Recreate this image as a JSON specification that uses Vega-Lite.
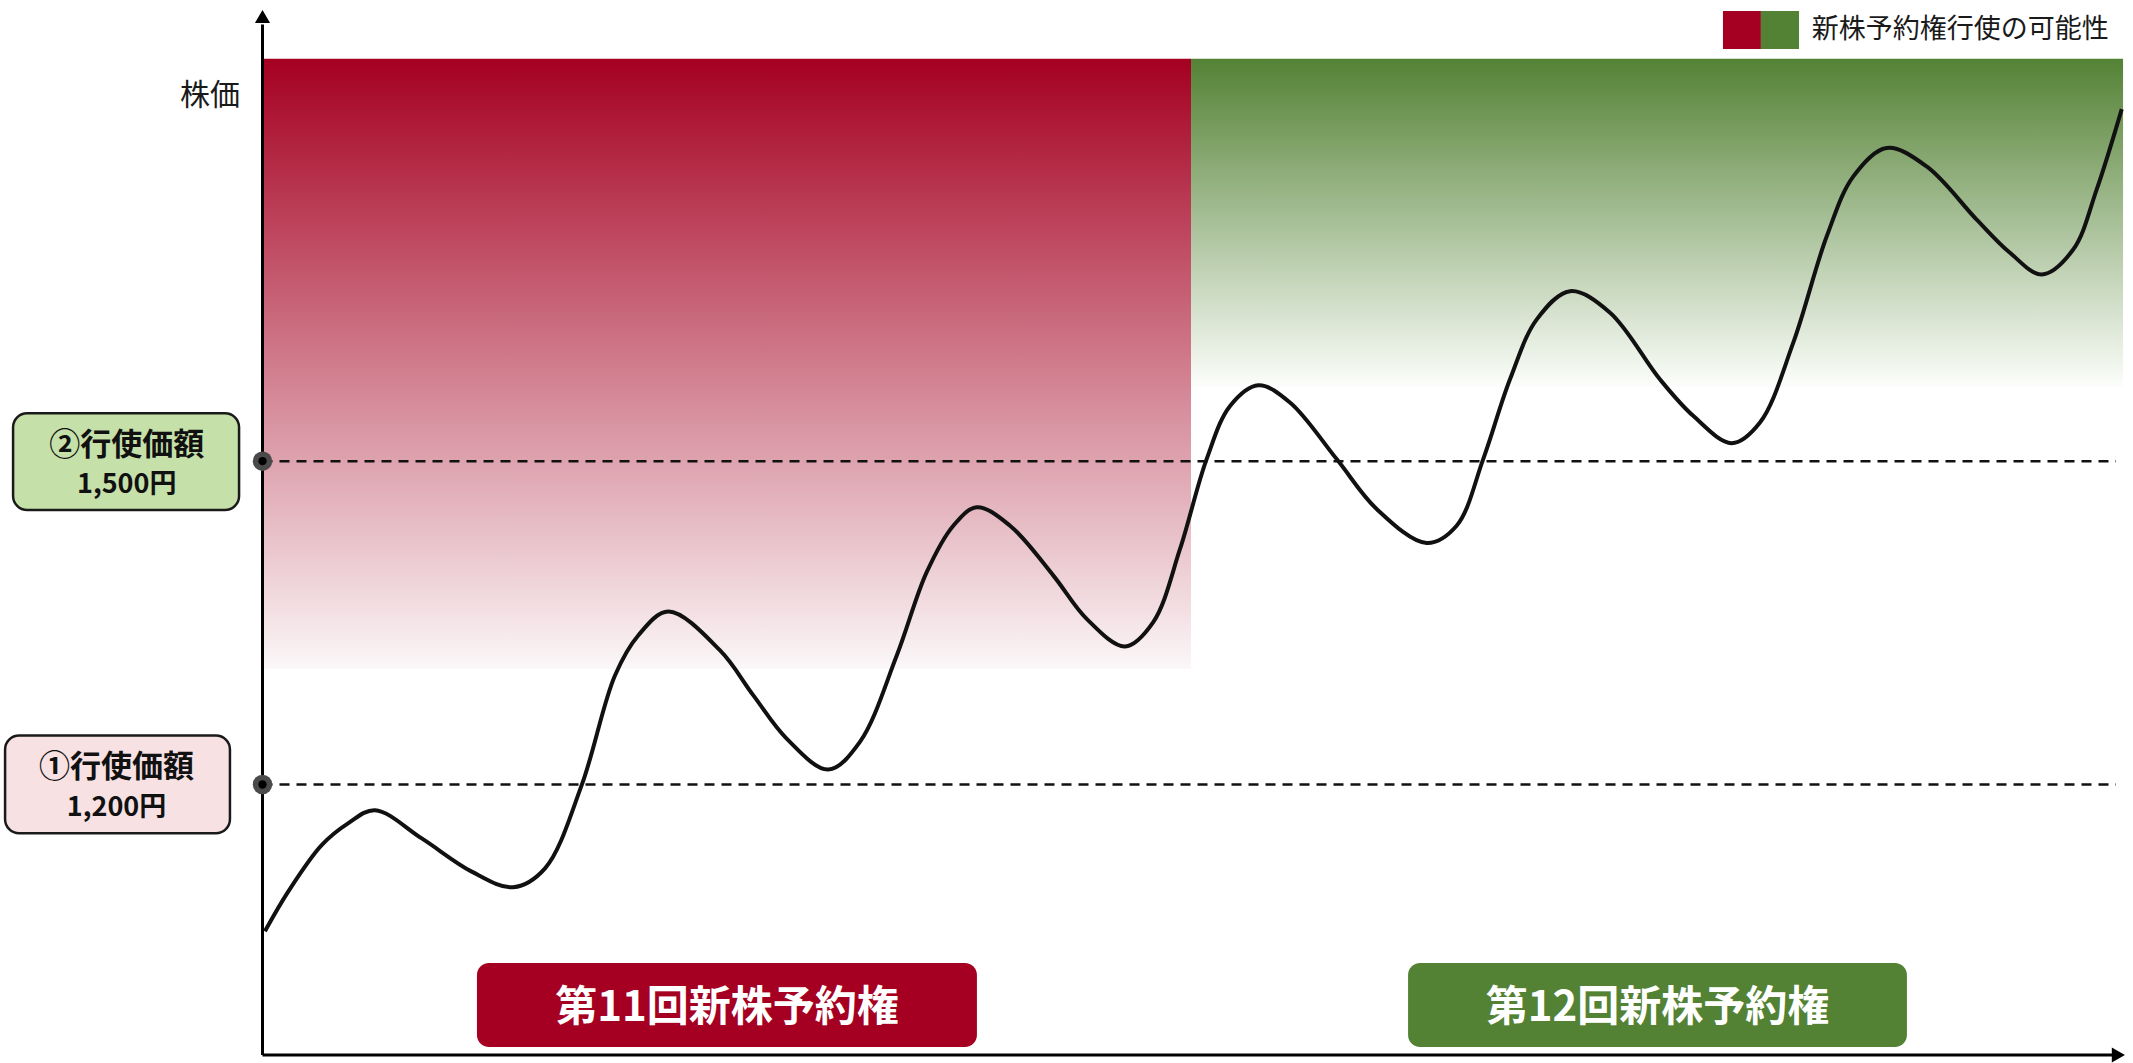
{
  "$schema": "https://vega.github.io/schema/vega-lite/v6.json",
  "width": 2133,
  "height": 1063,
  "autosize": {"type": "fit", "contains": "padding"},
  "padding": 0,
  "background": "white",
  "config": {"view": {"stroke": null}},
  "resolve": {"scale": {"fill": "independent", "shape": "independent"}},
  "datasets": {
    "zones": [
      {"series": "第11回", "t": 0, "t2": 49.92, "price": 1307.4, "price2": 1873.2},
      {"series": "第12回", "t": 49.92, "t2": 100.03, "price": 1568.5, "price2": 1873.2}
    ],
    "levels": [
      {"label": "②", "t": 0, "t2": 99.65, "price": 1500},
      {"label": "①", "t": 0, "t2": 99.65, "price": 1200}
    ],
    "axes": [
      {"axis": "y", "t": 0, "t2": 0, "price": 949.1, "price2": 1905},
      {"axis": "x", "t": 0, "t2": 99.6, "price": 949.1, "price2": 949.1}
    ],
    "arrows": [
      {"axis": "y", "t": 0, "price": 1912.5},
      {"axis": "x", "t": 99.78, "price": 949.1}
    ],
    "curve": [
      {"t": 0.13, "price": 1063.9}, {"t": 1.39, "price": 1100.9}, {"t": 3.18, "price": 1143.8},
      {"t": 4.6, "price": 1164.0}, {"t": 6.05, "price": 1176.2}, {"t": 8.56, "price": 1150.0},
      {"t": 11.25, "price": 1119.2}, {"t": 13.48, "price": 1104.7}, {"t": 15.19, "price": 1122.2},
      {"t": 17.16, "price": 1199.4}, {"t": 18.95, "price": 1301.2}, {"t": 20.2, "price": 1338.3},
      {"t": 21.82, "price": 1360.5}, {"t": 24.6, "price": 1324.4}, {"t": 26.39, "price": 1282.7},
      {"t": 28.18, "price": 1242.6}, {"t": 30.42, "price": 1213.9}, {"t": 32.12, "price": 1239.6},
      {"t": 34.1, "price": 1319.7}, {"t": 35.71, "price": 1397.0}, {"t": 37.14, "price": 1440.1},
      {"t": 38.4, "price": 1457.2}, {"t": 40.19, "price": 1440.1}, {"t": 42.52, "price": 1393.8},
      {"t": 44.31, "price": 1353.7}, {"t": 46.37, "price": 1328.1}, {"t": 47.89, "price": 1350.7},
      {"t": 49.33, "price": 1418.5}, {"t": 50.76, "price": 1501.9}, {"t": 52.02, "price": 1551.2},
      {"t": 53.54, "price": 1570.4}, {"t": 55.24, "price": 1554.4}, {"t": 57.75, "price": 1501.9},
      {"t": 59.9, "price": 1455.6}, {"t": 62.59, "price": 1424.1}, {"t": 64.2, "price": 1440.1},
      {"t": 65.63, "price": 1501.9}, {"t": 67.07, "price": 1575.9}, {"t": 68.51, "price": 1631.5},
      {"t": 70.3, "price": 1657.7}, {"t": 72.45, "price": 1637.7}, {"t": 75.13, "price": 1575.9},
      {"t": 76.92, "price": 1542.0}, {"t": 78.99, "price": 1516.7}, {"t": 80.51, "price": 1535.9},
      {"t": 82.3, "price": 1609.9}, {"t": 84.1, "price": 1708.6}, {"t": 85.53, "price": 1764.2},
      {"t": 87.32, "price": 1790.5}, {"t": 89.47, "price": 1773.4}, {"t": 92.16, "price": 1724.1},
      {"t": 93.95, "price": 1693.3}, {"t": 95.66, "price": 1673.2}, {"t": 97.35, "price": 1696.3},
      {"t": 98.61, "price": 1751.9}, {"t": 99.96, "price": 1826.6}
    ],
    "levelBoxes": [
      {"label": "②", "t": -13.41, "t2": -1.26, "price": 1454.7, "price2": 1544.5},
      {"label": "①", "t": -13.84, "t2": -1.75, "price": 1154.7, "price2": 1245.4}
    ],
    "levelTitles": [
      {"text": "②行使価額", "t": -7.3, "price": 1514.5},
      {"text": "①行使価額", "t": -7.85, "price": 1215.5}
    ],
    "levelValues": [
      {"text": "1,500円", "t": -7.3, "price": 1478.0},
      {"text": "1,200円", "t": -7.85, "price": 1178.0}
    ],
    "seriesBoxes": [
      {"series": "第11回", "t": 11.53, "t2": 38.41, "price": 956.5, "price2": 1034.3, "text": "第11回新株予約権", "tc": 24.97},
      {"series": "第12回", "t": 61.59, "t2": 88.41, "price": 956.5, "price2": 1034.3, "text": "第12回新株予約権", "tc": 75.0}
    ],
    "legendSquares": [
      {"series": "第11回", "t": 78.52, "t2": 80.56, "price": 1882.4, "price2": 1917.6},
      {"series": "第12回", "t": 80.56, "t2": 82.61, "price": 1882.4, "price2": 1917.6}
    ],
    "notes": [
      {"role": "legend", "text": "新株予約権行使の可能性", "t": 83.3, "price": 1900},
      {"role": "ytitle", "text": "株価", "t": -1.21, "price": 1838.9}
    ]
  },
  "encoding": {
    "x": {"field": "t", "type": "quantitative", "scale": {"domain": [-14.113, 100.565], "nice": false, "zero": false}, "axis": null},
    "y": {"field": "price", "type": "quantitative", "scale": {"domain": [943.5, 1927.8], "nice": false, "zero": false}, "axis": null}
  },
  "layer": [
    {
      "data": {"name": "zones"},
      "transform": [{"filter": "datum.series === '第11回'"}],
      "mark": {"type": "rect", "color": {"gradient": "linear", "x1": 0, "y1": 0, "x2": 0, "y2": 1, "stops": [{"offset": 0, "color": "#A50021"}, {"offset": 1, "color": "#FBF7F8"}]}},
      "encoding": {"x2": {"field": "t2"}, "y2": {"field": "price2"}}
    },
    {
      "data": {"name": "zones"},
      "transform": [{"filter": "datum.series === '第12回'"}],
      "mark": {"type": "rect", "color": {"gradient": "linear", "x1": 0, "y1": 0, "x2": 0, "y2": 1, "stops": [{"offset": 0, "color": "#548235"}, {"offset": 1, "color": "#FCFEFB"}]}},
      "encoding": {"x2": {"field": "t2"}, "y2": {"field": "price2"}}
    },
    {
      "data": {"name": "levels"},
      "mark": {"type": "rule", "color": "#111111", "strokeWidth": 2.5, "strokeDash": [10, 7]},
      "encoding": {"x2": {"field": "t2"}}
    },
    {
      "data": {"name": "axes"},
      "mark": {"type": "rule", "color": "#000000", "strokeWidth": 3},
      "encoding": {"x2": {"field": "t2"}, "y2": {"field": "price2"}}
    },
    {
      "data": {"name": "arrows"},
      "mark": {"type": "point", "filled": true, "opacity": 1, "size": 230, "color": "#000000"},
      "encoding": {"shape": {"field": "axis", "type": "nominal", "scale": {"domain": ["y", "x"], "range": ["triangle-up", "triangle-right"]}, "legend": null}}
    },
    {
      "data": {"name": "curve"},
      "mark": {"type": "line", "interpolate": "catmull-rom", "color": "#111111", "strokeWidth": 4}
    },
    {
      "data": {"name": "levels"},
      "mark": {"type": "point", "filled": true, "opacity": 1, "shape": "circle", "size": 380, "color": "#4A4A4A"}
    },
    {
      "data": {"name": "levels"},
      "mark": {"type": "point", "filled": true, "opacity": 1, "shape": "circle", "size": 70, "color": "#000000"}
    },
    {
      "data": {"name": "levelBoxes"},
      "mark": {"type": "rect", "cornerRadius": 14, "stroke": "#1A1A1A", "strokeWidth": 2.5},
      "encoding": {
        "x2": {"field": "t2"}, "y2": {"field": "price2"},
        "fill": {"field": "label", "type": "nominal", "scale": {"domain": ["②", "①"], "range": ["#C5E0A8", "#F7E1E3"]}, "legend": null}
      }
    },
    {
      "data": {"name": "levelTitles"},
      "mark": {"type": "text", "font": "Noto Sans CJK JP", "fontWeight": "bold", "fontSize": 31, "align": "center", "baseline": "middle", "color": "#111111"},
      "encoding": {"text": {"field": "text"}}
    },
    {
      "data": {"name": "levelValues"},
      "mark": {"type": "text", "font": "Noto Sans CJK JP", "fontWeight": "bold", "fontSize": 27, "align": "center", "baseline": "middle", "color": "#111111"},
      "encoding": {"text": {"field": "text"}}
    },
    {
      "data": {"name": "seriesBoxes"},
      "mark": {"type": "rect", "cornerRadius": 12},
      "encoding": {
        "x2": {"field": "t2"}, "y2": {"field": "price2"},
        "fill": {"field": "series", "type": "nominal", "scale": {"domain": ["第11回", "第12回"], "range": ["#A50021", "#548235"]}, "legend": null}
      }
    },
    {
      "data": {"name": "seriesBoxes"},
      "mark": {"type": "text", "font": "Noto Sans CJK JP", "fontWeight": "bold", "fontSize": 42, "align": "center", "baseline": "middle", "color": "#FFFFFF"},
      "encoding": {
        "x": {"field": "tc", "type": "quantitative"},
        "y": {"datum": 993},
        "text": {"field": "text"}
      }
    },
    {
      "data": {"name": "legendSquares"},
      "mark": {"type": "rect"},
      "encoding": {
        "x2": {"field": "t2"}, "y2": {"field": "price2"},
        "fill": {"field": "series", "type": "nominal", "scale": {"domain": ["第11回", "第12回"], "range": ["#A50021", "#548235"]}, "legend": null}
      }
    },
    {
      "data": {"name": "notes"},
      "transform": [{"filter": "datum.role === 'legend'"}],
      "mark": {"type": "text", "font": "Noto Sans CJK JP", "fontSize": 27, "align": "left", "baseline": "middle", "color": "#1A1A1A"},
      "encoding": {"text": {"field": "text"}}
    },
    {
      "data": {"name": "notes"},
      "transform": [{"filter": "datum.role === 'ytitle'"}],
      "mark": {"type": "text", "font": "Noto Sans CJK JP", "fontSize": 30, "align": "right", "baseline": "middle", "color": "#1A1A1A"},
      "encoding": {"text": {"field": "text"}}
    }
  ]
}
